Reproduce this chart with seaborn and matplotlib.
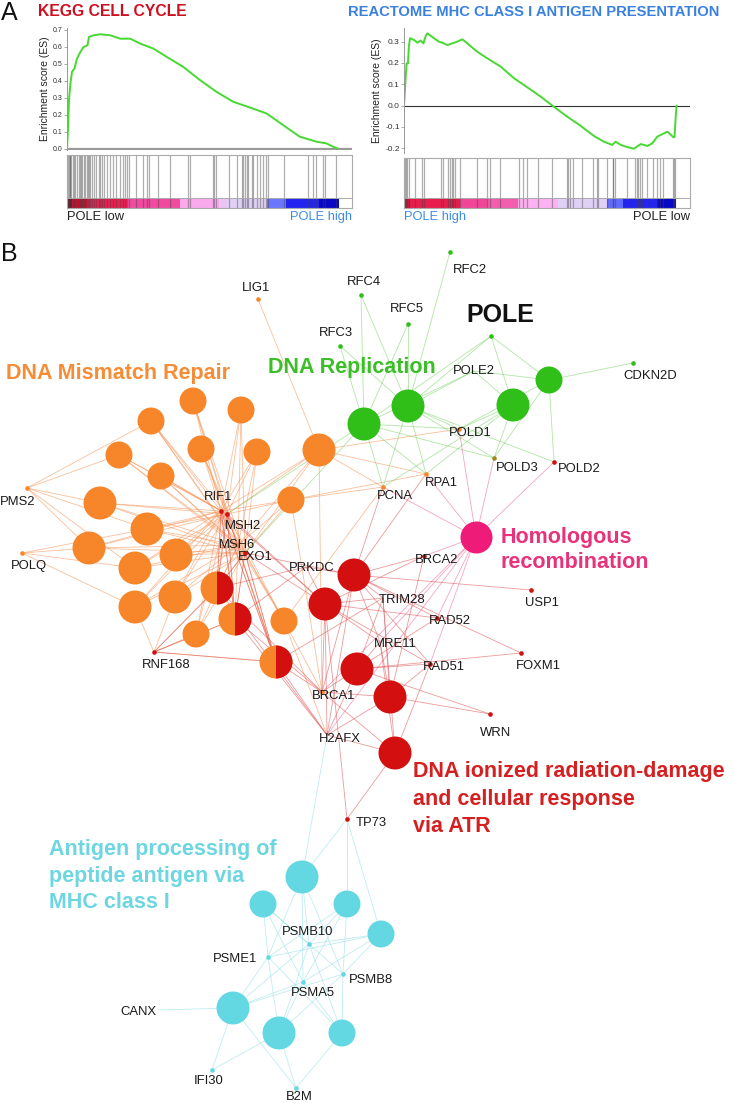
"""
plot.py
-------
GSEA enrichment plots (panel A) and the POLE pathway network (panel B).
"""

import matplotlib
matplotlib.use('Agg')
import numpy as np
import pandas as pd
import matplotlib.pyplot as plt
import seaborn as sns
from matplotlib.colors import LinearSegmentedColormap
from matplotlib.collections import LineCollection
from matplotlib.patches import Wedge

sns.set_theme(style='white')
plt.rcParams['font.family'] = ['Liberation Sans', 'DejaVu Sans']

# ── Panel A: running enrichment scores (rank fraction, ES) ─────────────
kegg_rank = [0.0, 0.0035, 0.007, 0.012, 0.0175, 0.026, 0.035, 0.047, 0.058,
             0.072, 0.077, 0.093, 0.117, 0.152, 0.187, 0.222, 0.257, 0.303,
             0.350, 0.408, 0.467, 0.525, 0.583, 0.642, 0.700, 0.758, 0.817,
             0.875, 0.910, 0.933, 0.951]
kegg_es = [0.0, 0.11, 0.285, 0.383, 0.452, 0.471, 0.53, 0.569, 0.598,
           0.608, 0.657, 0.667, 0.673, 0.667, 0.647, 0.647, 0.618, 0.589,
           0.540, 0.481, 0.403, 0.334, 0.276, 0.242, 0.207, 0.139, 0.070,
           0.041, 0.031, 0.012, 0.0]
kegg_hits = [0.002, 0.006, 0.009, 0.012, 0.015, 0.020, 0.026, 0.029, 0.035,
             0.041, 0.044, 0.049, 0.053, 0.058, 0.064, 0.070, 0.074, 0.078,
             0.082, 0.088, 0.096, 0.103, 0.111, 0.117, 0.123, 0.131, 0.140,
             0.152, 0.163, 0.173, 0.187, 0.196, 0.202, 0.210, 0.219, 0.243,
             0.266, 0.282, 0.289, 0.321, 0.362, 0.426, 0.432, 0.511, 0.516,
             0.523, 0.569, 0.595, 0.613, 0.616, 0.624, 0.630, 0.636, 0.648,
             0.653, 0.665, 0.677, 0.688, 0.697, 0.706, 0.761, 0.846, 0.863,
             0.875, 0.898, 0.904, 0.945]
kegg_bar_edges = [0, 0.018, 0.07, 0.21, 0.395, 0.535, 0.56, 0.70, 0.77, 0.885, 0.954]
kegg_bar_metric = [1.0, 0.85, 0.7, 0.5, 0.22, 0.1, 0.02, -0.3, -0.62, -0.9]

mhc_rank = [0.0, 0.002, 0.006, 0.009, 0.014, 0.017, 0.021, 0.035, 0.047,
            0.058, 0.068, 0.076, 0.082, 0.105, 0.122, 0.134, 0.152, 0.169,
            0.186, 0.204, 0.221, 0.256, 0.291, 0.338, 0.385, 0.431, 0.478,
            0.524, 0.571, 0.618, 0.664, 0.699, 0.728, 0.740, 0.758, 0.775,
            0.804, 0.828, 0.851, 0.868, 0.886, 0.909, 0.921, 0.942, 0.946,
            0.950, 0.953]
mhc_es = [0.0, 0.042, 0.136, 0.198, 0.198, 0.277, 0.316, 0.308, 0.295,
          0.305, 0.292, 0.327, 0.339, 0.316, 0.300, 0.295, 0.284, 0.292,
          0.300, 0.311, 0.292, 0.253, 0.222, 0.183, 0.128, 0.086, 0.042,
          -0.005, -0.052, -0.095, -0.142, -0.169, -0.184, -0.169, -0.184, -0.192,
          -0.202, -0.180, -0.189, -0.177, -0.145, -0.130, -0.122, -0.148, -0.148,
          -0.052, 0.0]
mhc_hits = [0.003, 0.007, 0.012, 0.019, 0.038, 0.062, 0.070, 0.128, 0.135,
            0.155, 0.161, 0.167, 0.172, 0.178, 0.196, 0.254, 0.291, 0.301,
            0.336, 0.403, 0.415, 0.431, 0.470, 0.516, 0.569, 0.575, 0.580,
            0.592, 0.621, 0.662, 0.674, 0.680, 0.709, 0.730, 0.732, 0.738,
            0.779, 0.808, 0.814, 0.819, 0.825, 0.831, 0.848, 0.872, 0.886,
            0.895, 0.907, 0.939, 0.944, 0.948]
mhc_bar_edges = [0, 0.021, 0.196, 0.289, 0.40, 0.54, 0.709, 0.767, 0.883, 0.951]
mhc_bar_metric = [0.8, 0.72, 0.52, 0.45, 0.2, 0.02, -0.35, -0.62, -0.9]

# ── Panel B: network terms (pixel layout of the drawing) ──────────────
mmr_terms = {'mmr01': (193, 401), 'mmr02': (241, 410), 'mmr03': (151, 421),
             'mmr04': (201, 449), 'mmr05': (257, 452), 'mmr06': (119, 455),
             'mmr07': (161, 476), 'mmr08': (319, 450), 'mmr09': (100, 503),
             'mmr10': (291, 500), 'mmr11': (147, 529), 'mmr12': (89, 548),
             'mmr13': (176, 555), 'mmr14': (135, 568), 'mmr15': (135, 607),
             'mmr16': (175, 597), 'mmr17': (196, 634), 'mmr18': (284, 621)}
mixed_terms = {'mix1': (217, 588), 'mix2': (235, 619), 'mix3': (276, 662)}
rep_terms = {'rep1': (364, 424), 'rep2': (408, 406), 'rep3': (513, 405),
             'rep4': (549, 380)}
hr_terms = {'hr1': (476, 537)}
atr_terms = {'atr1': (354, 575), 'atr2': (325, 604), 'atr3': (357, 669),
             'atr4': (390, 697), 'atr5': (395, 753)}
mhc_terms = {'mhc1': (302, 877), 'mhc2': (263, 904), 'mhc3': (347, 904),
             'mhc4': (381, 934), 'mhc5': (233, 1008), 'mhc6': (279, 1033),
             'mhc7': (342, 1033)}
small_terms = ['mmr01', 'mmr02', 'mmr03', 'mmr04', 'mmr05', 'mmr06', 'mmr07',
               'mmr10', 'mmr17', 'mmr18', 'rep4', 'mhc2', 'mhc3', 'mhc4', 'mhc7']

genes = {
    'LIG1': (258, 299, 'mmr'), 'RFC2': (450, 252, 'rep'), 'RFC4': (361, 295, 'rep'),
    'RFC5': (408, 324, 'rep'), 'RFC3': (340, 346, 'rep'), 'POLE': (491, 336, 'rep'),
    'CDKN2D': (633, 363, 'rep'), 'POLE2': (474, 371, 'rep'), 'POLD1': (459, 429, 'mmr'),
    'POLD3': (494, 458, 'mix'), 'POLD2': (554, 462, 'atr'), 'RPA1': (426, 474, 'mmr'),
    'PCNA': (383, 487, 'mmr'), 'PMS2': (27, 488, 'mmr'), 'POLQ': (22, 553, 'mmr'),
    'RIF1': (221, 511, 'atr'), 'MSH2': (227, 514, 'atr'), 'MSH6': (238, 545, 'atr'),
    'EXO1': (245, 553, 'atr'), 'PRKDC': (306, 567, 'atr'), 'RNF168': (154, 652, 'atr'),
    'BRCA1': (322, 692, 'mmr'), 'H2AFX': (327, 735, 'atr'), 'TP73': (347, 819, 'atr'),
    'BRCA2': (424, 556, 'atr'), 'TRIM28': (383, 598, 'atr'), 'USP1': (531, 590, 'atr'),
    'RAD52': (437, 618, 'atr'), 'MRE11': (380, 642, 'atr'), 'RAD51': (430, 664, 'atr'),
    'FOXM1': (521, 653, 'atr'), 'WRN': (490, 714, 'atr'), 'PSMB10': (309, 944, 'mhc'),
    'PSME1': (268, 957, 'mhc'), 'PSMB8': (343, 974, 'mhc'), 'PSMA5': (303, 982, 'mhc'),
    'CANX': (138, 1010, 'mhc'), 'IFI30': (212, 1070, 'mhc'), 'B2M': (296, 1088, 'mhc'),
}

# term -> member genes
mmr_hub = ['RIF1', 'MSH2', 'MSH6', 'EXO1']
links = {t: list(mmr_hub) for t in list(mmr_terms) + list(mixed_terms)}
for t in ['mmr03', 'mmr06', 'mmr09', 'mmr11', 'mmr12', 'mmr14']:
    links[t].append('PMS2')
for t in ['mmr11', 'mmr12', 'mmr14', 'mmr15']:
    links[t].append('POLQ')
for t in ['mmr15', 'mmr16', 'mmr17', 'mix1', 'mix2', 'mix3']:
    links[t].append('RNF168')
links['mmr08'] += ['LIG1', 'PCNA', 'RPA1', 'POLD1', 'BRCA1']
links['mmr10'] += ['PCNA', 'RPA1', 'BRCA1']
links['mmr18'] += ['BRCA1', 'PCNA', 'H2AFX']

rep_links = {
    'rep1': ['RFC3', 'RFC4', 'RFC5', 'POLE', 'POLE2', 'PCNA', 'RPA1', 'POLD1',
             'POLD3', 'EXO1', 'MSH2'],
    'rep2': ['RFC3', 'RFC4', 'RFC5', 'RFC2', 'POLE', 'POLE2', 'PCNA', 'RPA1',
             'POLD1', 'POLD3', 'POLD2'],
    'rep3': ['POLE', 'POLE2', 'PCNA', 'POLD1', 'POLD3', 'RPA1'],
    'rep4': ['POLE', 'CDKN2D', 'POLD2', 'POLD3', 'POLE2', 'POLD1'],
}
hr_links = {'hr1': ['POLD1', 'POLD3', 'POLD2', 'RPA1', 'PCNA', 'BRCA2', 'RAD51',
                    'RAD52', 'BRCA1', 'MRE11', 'H2AFX']}
atr_links = {
    'atr1': ['PRKDC', 'TRIM28', 'BRCA2', 'USP1', 'RAD52', 'MRE11', 'RAD51',
             'BRCA1', 'H2AFX', 'PCNA', 'RPA1', 'FOXM1', 'EXO1'],
    'atr2': ['PRKDC', 'TRIM28', 'MRE11', 'RAD51', 'BRCA1', 'H2AFX', 'RIF1',
             'MSH2', 'EXO1', 'RAD52', 'BRCA2', 'TP73'],
    'atr3': ['TRIM28', 'MRE11', 'RAD51', 'BRCA1', 'H2AFX', 'RAD52', 'FOXM1', 'WRN'],
    'atr4': ['MRE11', 'RAD51', 'BRCA1', 'H2AFX', 'TRIM28', 'WRN', 'BRCA2'],
    'atr5': ['H2AFX', 'TP73', 'BRCA1', 'RAD51', 'MRE11', 'TRIM28'],
    'mix1': ['RIF1', 'MSH2', 'EXO1', 'RNF168', 'BRCA1', 'H2AFX', 'PRKDC'],
    'mix2': ['RIF1', 'MSH2', 'EXO1', 'RNF168', 'BRCA1', 'H2AFX', 'PRKDC'],
    'mix3': ['RIF1', 'MSH2', 'EXO1', 'RNF168', 'BRCA1', 'H2AFX', 'TRIM28'],
}
mhc_links = {
    'mhc1': ['H2AFX', 'TP73', 'PSMB10', 'PSMA5', 'PSMB8', 'PSME1'],
    'mhc2': ['PSMB10', 'PSMA5', 'PSME1', 'PSMB8'],
    'mhc3': ['TP73', 'PSMB10', 'PSMA5', 'PSMB8', 'PSME1'],
    'mhc4': ['TP73', 'PSMB10', 'PSMA5', 'PSME1', 'PSMB8'],
    'mhc5': ['CANX', 'IFI30', 'B2M', 'PSMB10', 'PSMA5', 'PSME1', 'PSMB8'],
    'mhc6': ['IFI30', 'B2M', 'PSMB10', 'PSMA5', 'PSME1', 'PSMB8'],
    'mhc7': ['B2M', 'PSMB10', 'PSMA5', 'PSMB8', 'PSME1'],
}

# genes whose dot sits hidden under its own label
hidden_dots = ['POLE2', 'MSH6', 'PRKDC', 'TRIM28', 'MRE11', 'H2AFX', 'CANX']

# ── Styles ─────────────────────────────────────────────────────────────
C = {'mmr': '#f7862b', 'rep': '#2fbf18', 'hr': '#ee1c78', 'atr': '#d40f0f',
     'mhc': '#64d8e2', 'mix': '#a08a20'}
EDGE = {'mmr': '#f5955a', 'rep': '#7ed46a', 'hr': '#ee6a98', 'atr': '#e05858',
        'mhc': '#96e0e8'}
W, H = 734, 1103

gsea_cmap = LinearSegmentedColormap.from_list('gsea', [
    (0.0, '#0000b4'), (0.19, '#2424f2'), (0.35, '#6c78ff'), (0.5, '#dcd4f6'),
    (0.6, '#fbb2f2'), (0.75, '#f04ca0'), (0.85, '#f01e52'), (0.93, '#c81030'),
    (1.0, '#8a0a1e')])


def px_axes(fig, x0, y0, x1, y1):
    return fig.add_axes([x0 / W, 1 - y1 / H, (x1 - x0) / W, (y1 - y0) / H])


def draw_gsea(fig, box, ylim, ticks, rank, es, hits, bar_edges, bar_metric,
              zero_style, tick_size):
    x0, x1, y_top, y_mid, y_bot = box
    ax = px_axes(fig, x0, y_top, x1, y_mid)
    ax.set_facecolor('none')
    ax.axhline(0, **zero_style)
    sns.lineplot(x=rank, y=es, ax=ax, color='#47d932', lw=1.4,
                 sort=False, estimator=None)
    ax.set_xlim(0, 1)
    ax.set_ylim(*ylim)
    ax.set_yticks(ticks)
    ax.set_yticklabels([f'{t:.1f}' for t in ticks], fontsize=tick_size,
                       color='#333333')
    ax.set_xticks([])
    ax.tick_params(axis='y', left=True, length=2, width=0.5, color='#888888', pad=1)
    for s in ['top', 'right', 'bottom']:
        ax.spines[s].set_visible(False)
    ax.spines['left'].set_color('#999999')
    ax.spines['left'].set_linewidth(0.7)
    ax.set_ylabel('Enrichment score (ES)', fontsize=7.5, color='#222222', labelpad=2)

    hx = px_axes(fig, x0, y_mid + 5, x1, y_bot)
    hx.set_facecolor('none')
    bar_h = 0.19
    hx.pcolormesh(bar_edges, [0, bar_h], [bar_metric], cmap=gsea_cmap,
                  vmin=-1, vmax=1, shading='flat', zorder=1)
    hx.vlines(hits, 0, 1, color='#404040', lw=0.9, alpha=0.42, zorder=2)
    hx.axhline(bar_h, color='#aaaaaa', lw=0.7, zorder=3)
    hx.set_xlim(0, 1)
    hx.set_ylim(0, 1)
    hx.set_xticks([])
    hx.set_yticks([])
    for s in hx.spines.values():
        s.set_visible(True)
        s.set_color('#aaaaaa')
        s.set_linewidth(0.8)
    return ax, hx


def d2s(d):
    # pixel diameter -> scatter area in points^2 at dpi 100
    return (0.72 * d) ** 2


# ── Figure ─────────────────────────────────────────────────────────────
fig = plt.figure(figsize=(W / 100, H / 100), dpi=100)
ax = fig.add_axes([0, 0, 1, 1])
ax.set_xlim(0, W)
ax.set_ylim(H, 0)
ax.axis('off')

# Panel A
draw_gsea(fig, (67, 352, 28, 150, 208), (-0.008, 0.71),
          [0, 0.1, 0.2, 0.3, 0.4, 0.5, 0.6, 0.7], kegg_rank, kegg_es, kegg_hits,
          kegg_bar_edges, kegg_bar_metric,
          dict(color='#9a9a9a', lw=1.6), 5)
draw_gsea(fig, (404, 690, 28, 153, 208), (-0.222, 0.364),
          [-0.2, -0.1, 0, 0.1, 0.2, 0.3], mhc_rank, mhc_es, mhc_hits,
          mhc_bar_edges, mhc_bar_metric,
          dict(color='#333333', lw=0.8), 6)

ax.text(1, 13, 'A', fontsize=18, va='center', ha='left', color='#111111')
ax.text(38, 12, 'KEGG CELL CYCLE', fontsize=11.3, fontweight='bold',
        color='#cc1020', va='center', ha='left')
ax.text(348, 12, 'REACTOME MHC CLASS I ANTIGEN PRESENTATION', fontsize=10.6,
        fontweight='bold', color='#3a80e0', va='center', ha='left')
ax.text(67, 217, 'POLE low', fontsize=9.3, color='#222222', va='center', ha='left')
ax.text(352, 217, 'POLE high', fontsize=9.3, color='#3c8ce6', va='center', ha='right')
ax.text(404, 217, 'POLE high', fontsize=9.3, color='#3c8ce6', va='center', ha='left')
ax.text(690, 217, 'POLE low', fontsize=9.3, color='#222222', va='center', ha='right')

# Panel B
ax.text(1, 254, 'B', fontsize=18, va='center', ha='left', color='#111111')

all_terms = {}
term_group = {}
for grp, d in [('mmr', mmr_terms), ('mix', mixed_terms), ('rep', rep_terms),
               ('hr', hr_terms), ('atr', atr_terms), ('mhc', mhc_terms)]:
    for k, v in d.items():
        all_terms[k] = v
        term_group[k] = grp

# edges
segs, cols = [], []
for grp, table in [('mmr', links), ('rep', rep_links), ('hr', hr_links),
                   ('atr', atr_links), ('mhc', mhc_links)]:
    for t, members in table.items():
        tx, ty = all_terms[t]
        for g in members:
            gx, gy, _ = genes[g]
            if g == 'CANX':
                gx += 20
            segs.append([(tx, ty), (gx, gy)])
            cols.append(EDGE[grp])
ax.add_collection(LineCollection(segs, colors=cols, linewidths=0.6,
                                 alpha=0.6, zorder=1))

# term nodes
nodes = pd.DataFrame([
    {'term': k, 'x': v[0], 'y': v[1], 'group': term_group[k],
     'd': 27 if k in small_terms else 33}
    for k, v in all_terms.items()])
nodes.loc[nodes['term'] == 'hr1', 'd'] = 32
for grp, sub in nodes.groupby('group'):
    color = C['mmr'] if grp == 'mix' else C[grp]
    sns.scatterplot(data=sub, x='x', y='y', s=d2s(sub['d']).to_numpy(),
                    color=color, linewidth=0, ax=ax, legend=False, zorder=3)
for k, (x, y) in mixed_terms.items():
    ax.add_patch(Wedge((x, y), 16.5, -90, 90, facecolor=C['atr'],
                       edgecolor='none', zorder=4))

# gene dots
gdf = pd.DataFrame([{'gene': k, 'x': v[0], 'y': v[1], 'group': v[2]}
                    for k, v in genes.items() if k not in hidden_dots])
for grp, sub in gdf.groupby('group'):
    sns.scatterplot(data=sub, x='x', y='y', s=11, color=C[grp], linewidth=0,
                    ax=ax, legend=False, zorder=5)

# gene labels (centre positions)
label_xy = {
    'LIG1': (256, 288), 'RFC4': (364, 282), 'RFC2': (470, 270), 'RFC5': (407, 309),
    'RFC3': (336, 333), 'CDKN2D': (650, 376), 'POLE2': (474, 371),
    'POLD1': (470, 433), 'POLD3': (517, 468), 'POLD2': (579, 469),
    'RPA1': (441, 483), 'PCNA': (395, 496), 'PMS2': (18, 502), 'POLQ': (29, 566),
    'RIF1': (218, 497), 'MSH2': (243, 526), 'MSH6': (237, 545), 'EXO1': (255, 557),
    'PRKDC': (312, 568), 'RNF168': (166, 665), 'BRCA1': (334, 696),
    'H2AFX': (340, 739), 'BRCA2': (437, 560), 'TRIM28': (402, 600),
    'USP1': (542, 603), 'RAD52': (450, 621), 'MRE11': (395, 644),
    'RAD51': (444, 667), 'FOXM1': (538, 666), 'WRN': (496, 733),
    'PSMB10': (308, 932), 'PSME1': (235, 959), 'PSMB8': (371, 980),
    'PSMA5': (313, 993), 'CANX': (138, 1012), 'IFI30': (209, 1081),
    'B2M': (299, 1097), 'TP73': (371, 823),
}
for g, (lx, ly) in label_xy.items():
    ax.text(lx, ly, g, fontsize=9.4, color='#1a1a1a', ha='center', va='center',
            zorder=6)
ax.text(500, 315, 'POLE', fontsize=18, fontweight='bold', color='#111111',
        ha='center', va='center', zorder=6)

# pathway labels
big = dict(fontsize=15.5, fontweight='bold', ha='left', va='center', zorder=6)
ax.text(6, 373, 'DNA Mismatch Repair', color='#f78c36', **big)
ax.text(268, 368, 'DNA Replication', color='#3cbe28', **big)
for i, line in enumerate(['Homologous', 'recombination']):
    ax.text(501, 537 + i * 25, line, color='#e8327c', **big)
for i, line in enumerate(['DNA ionized radiation-damage', 'and cellular response',
                          'via ATR']):
    ax.text(413, 772 + i * 27, line, color='#d42020', **big)
for i, line in enumerate(['Antigen processing of', 'peptide antigen via',
                          'MHC class I']):
    ax.text(49, 850 + i * 26.5, line, color='#6dd6e0', **big)

fig.savefig('out.png', dpi=100)
plt.close(fig)
